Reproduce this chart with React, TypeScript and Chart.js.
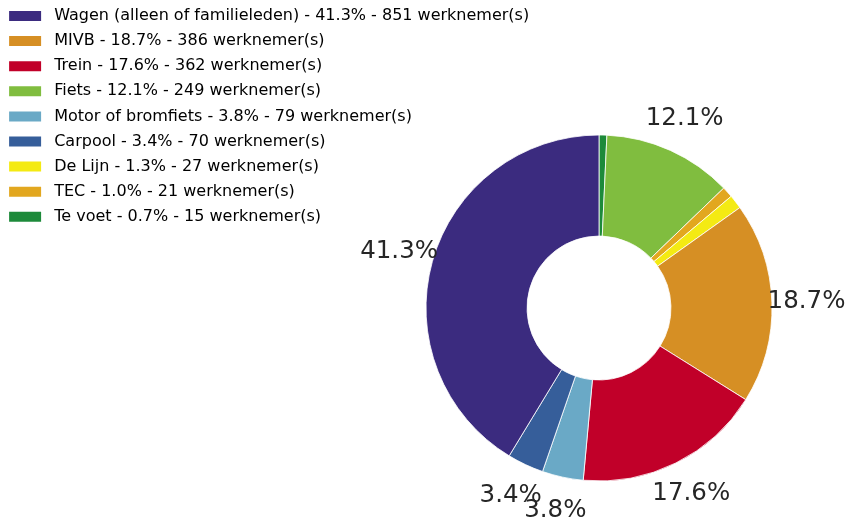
import React, { useEffect, useRef } from "react";
import { Chart, registerables } from "chart.js";

Chart.register(...registerables);

// Slices in drawing order (clockwise from 12 o'clock)
const categories = [
  "Te voet",
  "Fiets",
  "TEC",
  "De Lijn",
  "MIVB",
  "Trein",
  "Motor of bromfiets",
  "Carpool",
  "Wagen (alleen of familieleden)",
];
const employees = [15, 249, 21, 27, 386, 362, 79, 70, 851];
const percents = [0.7, 12.1, 1.0, 1.3, 18.7, 17.6, 3.8, 3.4, 41.3];
const colors = [
  "#1d8a3a",
  "#80bd3f",
  "#e2a71f",
  "#f4ea13",
  "#d68f24",
  "#c10029",
  "#6aa9c6",
  "#365e9a",
  "#3b2b7f",
];
const labelThreshold = 3;

const legendTexts = categories.map(
  (c, i) => `${c} - ${percents[i].toFixed(1)}% - ${employees[i]} werknemer(s)`
);

const legendPlacer = {
  id: "legendPlacer",
  afterLayout(chart: any) {
    const lg = chart.legend;
    if (!lg) return;
    lg.left = 0;
    lg.top = -1.1;
    lg.width = 580;
    lg.height = 270;
    lg.right = 580;
    lg.bottom = lg.top + 270;
  },
};

const pctLabels = {
  id: "pctLabels",
  afterDatasetsDraw(chart: any) {
    const meta = chart.getDatasetMeta(0);
    const ctx = chart.ctx;
    ctx.save();
    ctx.font = '24.5px "DejaVu Sans"';
    ctx.fillStyle = "#262626";
    ctx.textAlign = "center";
    ctx.textBaseline = "middle";
    meta.data.forEach((arc: any, i: number) => {
      if (percents[i] < labelThreshold) return;
      const { x, y, startAngle, endAngle, outerRadius } = arc.getProps(
        ["x", "y", "startAngle", "endAngle", "outerRadius"],
        true
      );
      const mid = (startAngle + endAngle) / 2;
      const r = outerRadius * 1.2;
      ctx.fillText(
        percents[i].toFixed(1) + "%",
        x + r * Math.cos(mid),
        y + r * Math.sin(mid)
      );
    });
    ctx.restore();
  },
};

export default function App() {
  const ref = useRef<HTMLCanvasElement>(null);
  useEffect(() => {
    document.body.style.margin = "0";
    const chart = new Chart(ref.current!, {
      type: "doughnut",
      data: {
        labels: legendTexts,
        datasets: [
          {
            data: employees,
            backgroundColor: colors,
            borderColor: "#ffffff",
            borderWidth: 0.8,
            hoverBorderWidth: 0.8,
            hoverOffset: 0,
          },
        ],
      },
      options: {
        responsive: false,
        animation: false,
        devicePixelRatio: 1,
        events: [],
        radius: 173,
        cutout: "41.6%",
        layout: { padding: { left: 420, right: 71, top: 130, bottom: 38 } },
        plugins: {
          tooltip: { enabled: false },
          legend: {
            position: "chartArea",
            align: "start",
            labels: {
              boxWidth: 32,
              boxHeight: 10,
              padding: 9.1,
              color: "#2b2b2b",
              font: { family: "DejaVu Sans", size: 16 },
              generateLabels: (ch: any) =>
                ch.data.labels.map((t: string, i: number) => ({
                  text: " " + t,
                  fillStyle: colors[i],
                  strokeStyle: colors[i],
                  lineWidth: 0,
                  hidden: false,
                  index: i,
                })),
              sort: (a: any, b: any) => employees[b.index] - employees[a.index],
            },
          },
        },
      } as any,
      plugins: [legendPlacer, pctLabels],
    });
    return () => chart.destroy();
  }, []);
  return (
    <div style={{ position: "absolute", left: 0, top: 0, width: 849, height: 524 }}>
      <canvas ref={ref} width={849} height={524} style={{ display: "block" }} />
    </div>
  );
}
